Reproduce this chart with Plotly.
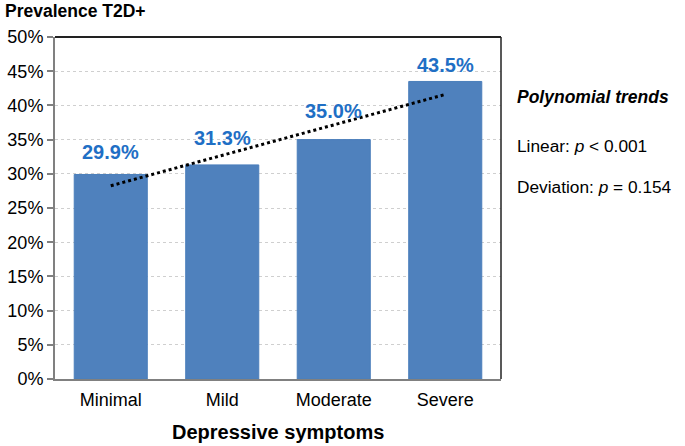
import numpy as np
import plotly.graph_objects as go

categories = ["Minimal", "Mild", "Moderate", "Severe"]
prevalence = [29.9, 31.3, 35.0, 43.5]
label_texts = ["29.9%", "31.3%", "35.0%", "43.5%"]
label_shift_px = [22, 27, 29, 16]
y_ticks = [0, 5, 10, 15, 20, 25, 30, 35, 40, 45, 50]
y_tick_labels = [f"{v}%" for v in y_ticks]

xi = np.arange(len(categories))
coef = np.polyfit(xi, prevalence, 1)
trend = np.polyval(coef, xi)

PH = 342.0  # plot height px
PW = 446.0  # plot width px
FONT = "Liberation Sans, Arial, sans-serif"

fig = go.Figure()
fig.add_trace(go.Bar(
    x=categories, y=prevalence, width=0.655,
    marker=dict(color="#4F81BD", line=dict(color="#4A7EBB", width=1)),
    showlegend=False, hoverinfo="skip",
))
fig.add_trace(go.Scatter(
    x=categories, y=trend, mode="lines",
    line=dict(color="black", width=3, dash="dot"),
    showlegend=False, hoverinfo="skip",
))

annotations = []
for c, v, t, s in zip(categories, prevalence, label_texts, label_shift_px):
    annotations.append(dict(
        x=c, y=v, xref="x", yref="y", text=f"<b>{t}</b>", showarrow=False,
        xanchor="center", yanchor="middle", yshift=s,
        font=dict(family=FONT, size=20, color="#1F6FC5"),
    ))

annotations += [
    dict(text="<b>Prevalence T2D+</b>", xref="paper", yref="paper",
         x=-52 / PW, y=1 + 26 / PH, xanchor="left", yanchor="middle",
         showarrow=False, font=dict(family=FONT, size=17.5)),
    dict(text="<b>Depressive symptoms</b>", xref="paper", yref="paper",
         x=0.5, y=-(432 - 379) / PH, xanchor="center", yanchor="middle",
         showarrow=False, font=dict(family=FONT, size=20)),
    dict(text="<b><i>Polynomial trends</i></b>", xref="paper", yref="paper",
         x=1 + 14 / PW, y=(379 - 97) / PH, xanchor="left", yanchor="middle",
         showarrow=False, font=dict(family=FONT, size=17.5)),
    dict(text="Linear: <i>p</i> < 0.001", xref="paper", yref="paper",
         x=1 + 14 / PW, y=(379 - 146) / PH, xanchor="left", yanchor="middle",
         showarrow=False, font=dict(family=FONT, size=17.3)),
    dict(text="Deviation: <i>p</i> = 0.154", xref="paper", yref="paper",
         x=1 + 14 / PW, y=(379 - 187) / PH, xanchor="left", yanchor="middle",
         showarrow=False, font=dict(family=FONT, size=17.3)),
]

fig.update_layout(
    width=685, height=446,
    margin=dict(l=55, r=184, t=37, b=67, autoexpand=False),
    paper_bgcolor="white", plot_bgcolor="white",
    font=dict(family=FONT, size=18, color="black"),
    bargap=0.345,
    xaxis=dict(
        type="category", showline=True, linecolor="#808080", linewidth=2,
        ticks="", showgrid=False, tickfont=dict(size=18),
        ticklabelstandoff=3,
        fixedrange=True, automargin=False,
    ),
    yaxis=dict(
        range=[0, 50], tickvals=y_ticks, ticktext=y_tick_labels,
        showline=True, linecolor="#808080", linewidth=2,
        ticks="outside", ticklen=6, tickcolor="#808080", tickwidth=1.5,
        showgrid=True, gridcolor="#CFCFCF", griddash="dot", gridwidth=1,
        tickfont=dict(size=18), zeroline=False, fixedrange=True,
        automargin=False,
    ),
    shapes=[
        dict(type="line", xref="paper", yref="paper", x0=0, x1=1, y0=1, y1=1,
             line=dict(color="#222222", width=2)),
        dict(type="line", xref="paper", yref="paper", x0=1, x1=1, y0=0, y1=1,
             line=dict(color="#222222", width=1.5)),
    ],
    annotations=annotations,
)

fig.write_html("out.html", config={"displayModeBar": False},
               post_script="document.body.style.margin='0px';")
